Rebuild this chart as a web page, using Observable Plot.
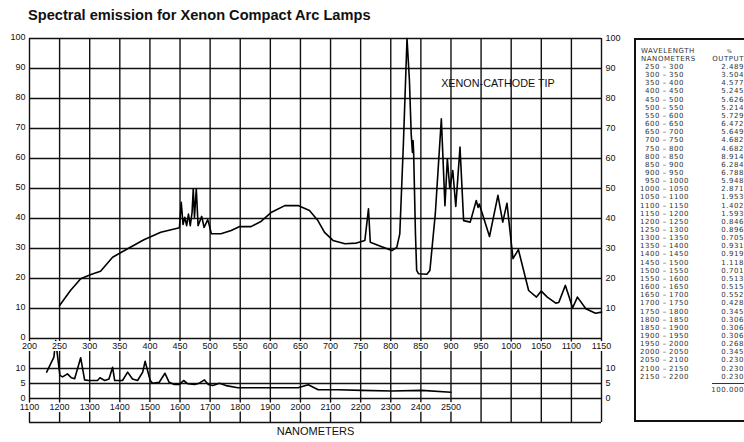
<!DOCTYPE html>
<html>
<head>
<meta charset="utf-8">
<script src="https://cdn.jsdelivr.net/npm/d3@7"></script>
<script src="https://cdn.jsdelivr.net/npm/@observablehq/plot@0.6"></script>
<style>
  html, body { margin: 0; padding: 0; background: #fff; width: 744px; height: 442px; overflow: hidden; position: relative; font-family: "Liberation Sans", Arial, sans-serif; }
  #title { position: absolute; left: 28px; top: 7px; font: bold 14.6px "Liberation Sans", Arial, sans-serif; color: #111; white-space: nowrap; }
  #sub, #main { position: absolute; left: 0; }
  #sub { top: 338px; }
  #main { top: 30px; }
  #table { position: absolute; left: 634px; top: 38px; width: 130px; height: 384px; border: 2px solid #111; box-sizing: border-box; }
  .t { position: absolute; font-family: "DejaVu Sans", sans-serif; font-size: 7px; letter-spacing: 0.55px; line-height: 7px; height: 7px; color: #333; white-space: nowrap; }
</style>
</head>
<body>
<div id="title">Spectral emission for Xenon Compact Arc Lamps</div>
<div id="sub"></div>
<div id="main"></div>
<div id="table"></div>
<script>
// ---- Main spectrum (upper scale, 200–1150 nm) ----
const mainNm = [250,268,285,302,318,338,363,390,418,449,452,455,458,461,464,467,470,472,474,477,480,486,490,496,498,502,518,535,549,568,585,602,624,646,665,679,690,704,724,743,757,763,766,785,802,810,815,821,827,831,834,836,837,838,841,843,846,860,865,874,884,890,894,898,903,908,915,921,932,942,945,947,964,978,986,993,1003,1012,1029,1042,1050,1060,1074,1079,1090,1096,1102,1110,1124,1140,1150];
const mainVal = [11,16,19.9,21.3,22.4,27.1,29.9,32.9,35.4,36.9,45.4,38,40.4,37.6,41.5,37.6,42,49.9,40.4,49.9,37.6,40.7,37,39.6,38.2,34.9,34.9,36,37.3,37.3,39.1,42.1,44.3,44.3,42.7,39.3,35.4,32.7,31.6,31.8,32.7,43.2,32.1,30.6,29.3,30.4,34.9,65,100,86,68,62,66,62,35,22.7,21.6,21.4,22.7,41.6,73.2,44.3,59.9,50,56,44,63.8,39.3,38.8,46,43.7,44.8,34,47.7,38.8,45.1,26.6,29.6,16,13.8,15.8,13.8,11.8,12,17.7,14,10.2,13.8,9.9,8.4,8.8];

// ---- Infrared tail (lower scale, 1100–2500 nm) ----
const subNm = [1157,1181,1187,1201,1210,1226,1239,1250,1270,1283,1297,1326,1334,1350,1364,1376,1383,1409,1426,1442,1459,1476,1484,1501,1509,1531,1550,1564,1581,1598,1612,1626,1648,1664,1681,1694,1709,1731,1753,1792,1848,1914,1992,2026,2059,2126,2203,2303,2403,2500];
const subVal = [8.8,13.8,19.3,7.7,7.2,8.2,6.9,6.6,13.6,6.2,6.0,6.0,6.9,6.0,6.5,10.4,6.0,6.0,8.8,6.5,6.0,8.8,12.4,6.0,5.1,5.4,8.4,5.4,4.7,4.7,6.0,4.9,4.7,5.1,6.2,4.7,4.3,5.1,4.3,3.6,3.6,3.6,3.6,4.6,2.9,2.9,2.7,2.5,2.7,2.1];

// ---- Tick labels ----
const mainXTicks = d3.range(200, 1151, 50);
const mainYTicks = d3.range(0, 101, 10);
const subXGrid = d3.range(1100, 3001, 100);
const subXLabels = d3.range(1100, 2501, 100);
const subYTicks = [0, 5, 10];
const annotation = [{label: "XENON-CATHODE TIP", nm: 978, v: 85}];
const axisTitle = ["NANOMETERS"];

// ---- Table ----
const bandStart = d3.range(250, 2151, 50);
const bandEnd = bandStart.map(d => d + 50);
const outputPct = [2.489,3.504,4.577,5.245,5.626,5.214,5.729,6.472,5.649,4.682,4.682,8.914,6.284,6.788,5.948,2.871,1.953,1.402,1.593,0.846,0.896,0.705,0.931,0.919,1.118,0.701,0.513,0.515,0.552,0.428,0.345,0.306,0.306,0.306,0.268,0.345,0.230,0.230,0.230];
const totalLabel = "100.000";

const mainData = mainNm.map((nm, i) => ({nm, v: mainVal[i]}));
const subData = subNm.map((nm, i) => ({nm, v: subVal[i]}));

const INK = "#111";
const font = {fontFamily: "'Liberation Sans', Arial, sans-serif", fontSize: 9};

const subPlot = Plot.plot({
  width: 634, height: 100,
  marginTop: 0, marginBottom: 16, marginLeft: 29, marginRight: 33,
  x: {domain: [1100, 3000], axis: null},
  y: {domain: [-8, 20], axis: null},
  style: {background: "transparent", overflow: "visible", ...font},
  marks: [
    Plot.ruleX(subXGrid, {x: d => d, stroke: INK, strokeWidth: 1.4}),
    Plot.ruleY([10, 5, 0, -8], {y: d => d, stroke: INK, strokeWidth: 1.4}),
    Plot.line(subData, {x: "nm", y: "v", stroke: "#000", strokeWidth: 1.6}),
    Plot.text(subXLabels, {x: d => d, y: () => -3, text: d => String(d), fill: INK, stroke: "white", strokeWidth: 4, paintOrder: "stroke", fontSize: 9}),
    Plot.text(subYTicks, {y: d => d, frameAnchor: "left", dx: -4, textAnchor: "end", text: d => String(d), fill: INK, fontSize: 9}),
    Plot.text(subYTicks, {y: d => d, frameAnchor: "right", dx: 4, textAnchor: "start", text: d => String(d), fill: INK, fontSize: 9}),
    Plot.text(axisTitle, {frameAnchor: "bottom", dy: 12, text: d => d, fill: INK, fontSize: 11})
  ]
});
document.getElementById("sub").appendChild(subPlot);

const mainPlot = Plot.plot({
  width: 634, height: 330,
  marginTop: 8, marginBottom: 22, marginLeft: 29, marginRight: 33,
  x: {domain: [200, 1150], axis: null},
  y: {domain: [0, 100], axis: null},
  style: {background: "transparent", overflow: "visible", ...font},
  marks: [
    Plot.ruleX(mainXTicks, {x: d => d, stroke: INK, strokeWidth: 1.4}),
    Plot.ruleY(mainYTicks, {y: d => d, stroke: INK, strokeWidth: 1.4}),
    Plot.line(mainData, {x: "nm", y: "v", stroke: "#000", strokeWidth: 1.6}),
    Plot.text(mainXTicks, {x: d => d, frameAnchor: "bottom", dy: 10.5, text: d => String(d), fill: INK, stroke: "white", strokeWidth: 4, paintOrder: "stroke", fontSize: 9}),
    Plot.text(mainYTicks, {y: d => d, frameAnchor: "left", dx: -4, dy: -1, textAnchor: "end", text: d => String(d), fill: INK, fontSize: 9}),
    Plot.text(mainYTicks.filter(d => d > 0), {y: d => d, frameAnchor: "right", dx: 4, textAnchor: "start", text: d => String(d), fill: INK, fontSize: 9}),
    Plot.text(annotation, {x: "nm", y: "v", text: "label", fill: INK, fontSize: 10.8})
  ]
});
document.getElementById("main").appendChild(mainPlot);

// ---- Build the table ----
const body = document.body;
function put(txt, left, cy, align, extra) {
  const s = document.createElement("span");
  s.className = "t";
  s.textContent = txt;
  s.style.top = (cy - 3.5) + "px";
  if (align === "right") { s.style.right = (744 - left) + "px"; }
  else if (align === "center") { s.style.left = (left - 2.5) + "px"; s.style.width = "5px"; s.style.textAlign = "center"; s.style.letterSpacing = "0"; }
  else { s.style.left = left + "px"; }
  if (extra) Object.assign(s.style, extra);
  body.appendChild(s);
}
put("WAVELENGTH", 641, 51.5, "left");
put("NANOMETERS", 641, 59.5, "left");
put("%", 727, 52.5, "left", {fontSize: "5px", lineHeight: "5px", height: "5px"});
put("OUTPUT", 744, 59.5, "right");
const rowY0 = 67.5, rowStep = 8.15;
bandStart.forEach((s, i) => {
  const cy = rowY0 + i * rowStep;
  put(String(s), 660, cy, "right");
  put("\u2013", 664.5, cy, "center");
  put(String(bandEnd[i]), 669, cy, "left");
  put(outputPct[i].toFixed(3), 744, cy, "right");
});
const line = document.createElement("div");
line.style.cssText = "position:absolute;left:712px;top:383px;width:32px;height:0;border-top:1px solid #333;";
body.appendChild(line);
put(totalLabel, 744, 390, "right");
</script>
</body>
</html>
